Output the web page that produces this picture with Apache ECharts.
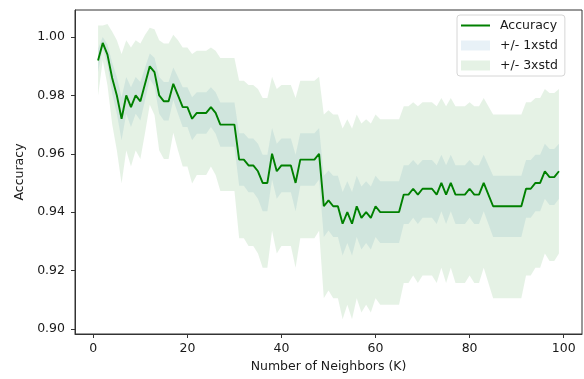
<!DOCTYPE html>
<html>
<head>
<meta charset="utf-8">
<script src="https://cdn.jsdelivr.net/npm/echarts@6/dist/echarts.min.js"></script>
<style>
  html, body { margin: 0; padding: 0; background: #fff; }
  #chart { width: 584px; height: 379px; }
</style>
</head>
<body>
<div id="chart"></div>
<script>
// Mean test accuracy for K = 1 .. 99
const accuracy = [
  0.992, 0.998, 0.994, 0.986, 0.980, 0.972, 0.980, 0.976, 0.980, 0.978,
  0.984, 0.990, 0.988, 0.980, 0.978, 0.978, 0.984, 0.980, 0.976, 0.976,
  0.972, 0.974, 0.974, 0.974, 0.976, 0.974, 0.970, 0.970, 0.970, 0.970,
  0.958, 0.958, 0.956, 0.956, 0.954, 0.950, 0.950, 0.960, 0.954, 0.956,
  0.956, 0.956, 0.950, 0.958, 0.958, 0.958, 0.958, 0.960, 0.942, 0.944,
  0.942, 0.942, 0.936, 0.940, 0.936, 0.942, 0.938, 0.940, 0.938, 0.942,
  0.940, 0.940, 0.940, 0.940, 0.940, 0.946, 0.946, 0.948, 0.946, 0.948,
  0.948, 0.948, 0.946, 0.950, 0.946, 0.950, 0.946, 0.946, 0.946, 0.948,
  0.946, 0.946, 0.950, 0.946, 0.942, 0.942, 0.942, 0.942, 0.942, 0.942,
  0.942, 0.948, 0.948, 0.950, 0.950, 0.954, 0.952, 0.952, 0.954
];

// Standard error of the accuracy for each K
const stdAcc = [
  0.0040, 0.0020, 0.0035, 0.0053, 0.0063, 0.0074, 0.0063, 0.0068, 0.0063, 0.0066,
  0.0056, 0.0044, 0.0049, 0.0063, 0.0066, 0.0066, 0.0056, 0.0063, 0.0068, 0.0068,
  0.0074, 0.0071, 0.0071, 0.0071, 0.0068, 0.0071, 0.0076, 0.0076, 0.0076, 0.0076,
  0.0090, 0.0090, 0.0092, 0.0092, 0.0094, 0.0097, 0.0097, 0.0088, 0.0094, 0.0092,
  0.0092, 0.0092, 0.0097, 0.0090, 0.0090, 0.0090, 0.0090, 0.0088, 0.0105, 0.0103,
  0.0105, 0.0105, 0.0109, 0.0106, 0.0109, 0.0105, 0.0108, 0.0106, 0.0108, 0.0105,
  0.0106, 0.0106, 0.0106, 0.0106, 0.0106, 0.0101, 0.0101, 0.0099, 0.0101, 0.0099,
  0.0099, 0.0099, 0.0101, 0.0097, 0.0101, 0.0097, 0.0101, 0.0101, 0.0101, 0.0099,
  0.0101, 0.0101, 0.0097, 0.0101, 0.0105, 0.0105, 0.0105, 0.0105, 0.0105, 0.0105,
  0.0105, 0.0099, 0.0099, 0.0097, 0.0097, 0.0094, 0.0096, 0.0096, 0.0094
];

// K values: 1, 2, ..., 99
const neighbors = accuracy.map((_, i) => i + 1);

const xTicks = [0, 20, 40, 60, 80, 100];
const yTicks = [0.90, 0.92, 0.94, 0.96, 0.98, 1.00];

const FONT = 'DejaVu Sans';
const TEXT = '#1a1a1a';
const AXIS = '#333';

// Polygon band accuracy +/- n * std, drawn once through the axis scales
function bandSeries(name, n, fill, z) {
  return {
    name: name,
    type: 'custom',
    coordinateSystem: 'cartesian2d',
    z: z,
    silent: true,
    itemStyle: { color: fill },
    encode: { x: 0, y: [1, 2] },
    data: neighbors.map((k, i) => [k, accuracy[i] - n * stdAcc[i], accuracy[i] + n * stdAcc[i]]),
    renderItem: function (params, api) {
      if (params.dataIndex !== 0) return null;
      const upper = neighbors.map((k, i) => api.coord([k, accuracy[i] + n * stdAcc[i]]));
      const lower = neighbors.map((k, i) => api.coord([k, accuracy[i] - n * stdAcc[i]])).reverse();
      return {
        type: 'polygon',
        shape: { points: upper.concat(lower) },
        style: { fill: fill, stroke: null }
      };
    }
  };
}

const chart = echarts.init(document.getElementById('chart'), null, { renderer: 'canvas' });

chart.setOption({
  animation: false,
  backgroundColor: '#fff',
  textStyle: { fontFamily: FONT },
  grid: {
    left: 75, right: 2, top: 10, bottom: 45,
    show: true, borderColor: AXIS, borderWidth: 1, backgroundColor: 'transparent',
    outerBoundsMode: 'none'
  },
  legend: {
    left: 457, top: 15,
    orient: 'vertical',
    selectedMode: false,
    backgroundColor: '#fff',
    borderColor: '#d6d6d6', borderWidth: 1, borderRadius: 3,
    padding: [4, 7, 4, 4],
    itemWidth: 29, itemHeight: 10, itemGap: 7,
    textStyle: { fontFamily: FONT, fontSize: 12.5, color: TEXT, padding: [0, 0, 0, 5] },
    data: [
      { name: 'Accuracy', icon: 'path://M0,0 L29,0 L29,2 L0,2 Z', itemStyle: { color: '#008000' } },
      { name: '+/- 1xstd', icon: 'rect', itemStyle: { color: '#e8f1f7' } },
      { name: '+/- 3xstd', icon: 'rect', itemStyle: { color: '#e5f2e5' } }
    ]
  },
  xAxis: {
    type: 'value',
    min: -3.9, max: 103.9,
    name: 'Number of Neighbors (K)',
    nameLocation: 'middle', nameGap: 26,
    nameTextStyle: { fontFamily: FONT, fontSize: 12.5, color: TEXT },
    axisLine: { show: true, onZero: false, lineStyle: { color: AXIS, width: 1 } },
    axisTick: { show: true, customValues: xTicks, length: 4, lineStyle: { color: AXIS } },
    axisLabel: { customValues: xTicks, margin: 8, fontFamily: FONT, fontSize: 12.5, color: TEXT },
    splitLine: { show: false }
  },
  yAxis: {
    type: 'value',
    min: 0.8982, max: 1.0093,
    name: 'Accuracy',
    nameLocation: 'middle', nameGap: 47,
    nameTextStyle: { fontFamily: FONT, fontSize: 12.5, color: TEXT },
    axisLine: { show: true, onZero: false, lineStyle: { color: AXIS, width: 1 } },
    axisTick: { show: true, customValues: yTicks, length: 4, lineStyle: { color: AXIS } },
    axisLabel: {
      customValues: yTicks, margin: 10, fontFamily: FONT, fontSize: 12.5, color: TEXT,
      formatter: v => v.toFixed(2)
    },
    splitLine: { show: false }
  },
  series: [
    bandSeries('+/- 1xstd', 1, 'rgba(31,119,180,0.10)', 1),
    bandSeries('+/- 3xstd', 3, 'rgba(0,128,0,0.10)', 2),
    {
      name: 'Accuracy',
      type: 'line',
      z: 3,
      showSymbol: false,
      symbol: 'none',
      silent: true,
      itemStyle: { color: '#008000' },
      lineStyle: { color: '#008000', width: 1.9 },
      data: neighbors.map((k, i) => [k, accuracy[i]])
    }
  ]
});
</script>
</body>
</html>
